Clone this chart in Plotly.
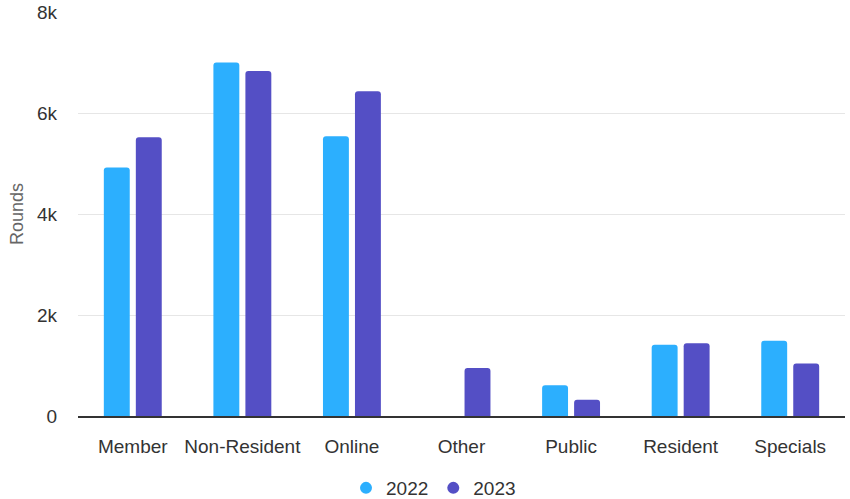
import plotly.graph_objects as go

categories = ["Member", "Non-Resident", "Online", "Other", "Public", "Resident", "Specials"]
rounds_2022 = [4920, 7000, 5540, 0, 610, 1410, 1490]
rounds_2023 = [5520, 6830, 6430, 950, 320, 1440, 1040]
series_names = ["2022", "2023"]
colors = ["#2caffe", "#544fc5"]
y_tick_vals = [0, 2000, 4000, 6000, 8000]
y_tick_text = ["0", "2k", "4k", "6k", "8k"]

fig = go.Figure()
for name, vals, col in zip(series_names, [rounds_2022, rounds_2023], colors):
    fig.add_trace(go.Bar(
        x=categories, y=vals, name=name, marker=dict(color=col, line=dict(width=0)),
        showlegend=False, hovertemplate="%{x}: %{y}<extra>" + name + "</extra>",
    ))
    # circle legend entry
    fig.add_trace(go.Scatter(
        x=[None], y=[None], mode="markers", name=name,
        marker=dict(symbol="circle", size=13, color=col),
    ))

fig.update_layout(
    width=850, height=499,
    margin=dict(l=78, r=5, t=12, b=83, autoexpand=False),
    plot_bgcolor="white", paper_bgcolor="white",
    font=dict(family="Liberation Sans, Arial, sans-serif", size=19, color="#333333"),
    barmode="group", bargap=0.416, bargroupgap=0.19, barcornerradius=3,
    xaxis=dict(
        showgrid=False, showline=True, linecolor="#333333", linewidth=1.5,
        ticks="", ticklabelstandoff=12, tickfont=dict(size=19, color="#333333"),
    ),
    yaxis=dict(
        range=[0, 8000], tickvals=y_tick_vals, ticktext=y_tick_text,
        showgrid=True, gridcolor="#e6e6e6", gridwidth=1,
        zeroline=False, showline=False, ticks="", ticklabelstandoff=20,
        tickfont=dict(size=19, color="#333333"),
        title=dict(text="Rounds", font=dict(size=18, color="#666666"), standoff=8),
    ),
    legend=dict(
        orientation="h", x=0.4635, xanchor="center", xref="paper",
        y=0.022, yanchor="middle", yref="container",
        font=dict(size=19, color="#333333"), itemsizing="constant",
    ),
)

fig.write_html("out.html")
